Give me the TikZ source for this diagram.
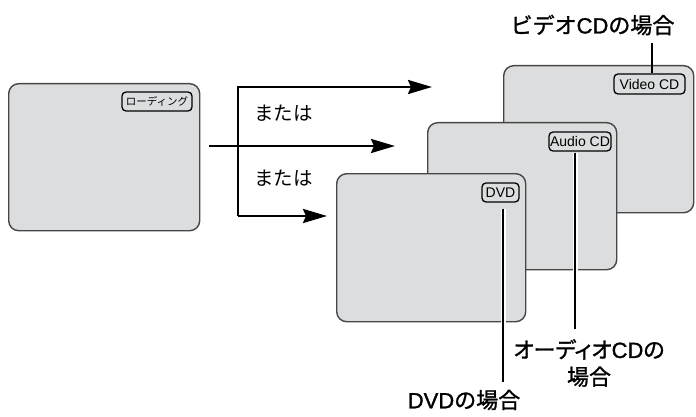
\documentclass[tikz,border=0pt]{standalone}
\usepackage{fontspec}
\setmainfont{Liberation Sans}
\newfontfamily\jp{Noto Sans CJK JP}
\newfontfamily\jpb{Noto Sans CJK JP}[FakeBold=1.2]
\newfontfamily\jpp{Noto Sans CJK JP}[FakeBold=1.2,RawFeature=+palt]
\newfontfamily\latb{Liberation Sans}[FakeBold=1.3]
\usetikzlibrary{arrows.meta}
\definecolor{scr}{RGB}{220,221,222}
\definecolor{bord}{RGB}{70,70,70}
\tikzset{
  screen/.style={draw=bord, line width=1.4pt, fill=scr, rounded corners=10pt,
    minimum width=190pt, minimum height=148pt, inner sep=0pt, anchor=north west},
  tag/.style={draw=black, line width=1.3pt, fill=scr, rounded corners=4pt,
    minimum height=19pt, inner sep=0pt, font=\fontsize{14}{16}\selectfont},
  flow/.style={line width=2.6pt, line cap=butt},
  tipped/.style={flow, -{Stealth[length=24pt,width=14pt,inset=3pt]}},
  leader/.style={line width=2.6pt},
  halo/.style={line width=5pt, white},
  big/.style={font=\jpb\fontsize{22}{27}\selectfont, inner sep=0pt, align=center},
  mata/.style={font=\jp\fontsize{19.5}{22}\selectfont, inner sep=0pt}
}
\newcommand{\lt}[1]{{\latb\fontsize{22}{27}\selectfont #1}}
\begin{document}
\begin{tikzpicture}[x=1pt,y=-1pt]
\useasboundingbox (0,0) rectangle (696,417);
% screens
\node[screen, minimum width=191pt, minimum height=147pt] (left) at (8,83) {};
\node[screen, minimum height=147pt] (vid) at (503,65) {};
\node[screen, minimum width=189pt, minimum height=147pt] (aud) at (427,122) {};
\node[screen, minimum width=189pt] (dvd) at (336,173) {};
% tags
\node[tag, minimum width=70pt, font=\jp\fontsize{10.5}{12}\selectfont] (ltag) at (157,101.5) {ローディング};
\node[tag, minimum width=71pt, minimum height=20pt] (vtag) at (649.5,84) {Video CD};
\node[tag, minimum width=62pt] (atag) at (580,141.5) {Audio CD};
\node[tag, minimum width=37pt] (dtag) at (500.5,192.5) {DVD};
% arrows
\coordinate (start) at (209,146);
\coordinate (midtip) at (395,146);
\coordinate (top) at (238,87);
\coordinate (bot) at (238,216);
\coordinate (toptip) at (432,87);
\coordinate (bottip) at (327,216);
\draw[tipped] (start) -- (midtip);
\draw[tipped] (bot) -- (top) -- (toptip);
\draw[tipped] (bot) -- (bottip);
\node[mata] (m1) at (283.5,113) {または};
\node[mata] (m2) at (283.5,178) {または};
% labels
\node[big] (vtxt) at (592.5,25) {ビデオ\lt{CD}の場合};
\node[big, font=\jpp\fontsize{22}{27}\selectfont] (atxt) at (589,363) {オーディオ\lt{CD}の\\場合};
\node[big] (dtxt) at (464,400) {\lt{DVD}の場合};
% leaders
\coordinate (vtop) at (652,43);
\coordinate (aend) at (575,329);
\coordinate (dend) at (503,382);
\draw[leader] (vtop) -- (vtop |- vtag.north);
\draw[halo] ([yshift=-1.5pt]atag.south -| aend) -- (aend);
\draw[leader] ([yshift=-1pt]atag.south -| aend) -- (aend);
\draw[halo] ([yshift=-6pt]dtag.south -| dend) -- (dend);
\draw[leader] ([yshift=-6pt]dtag.south -| dend) -- (dend);
\end{tikzpicture}
\end{document}
